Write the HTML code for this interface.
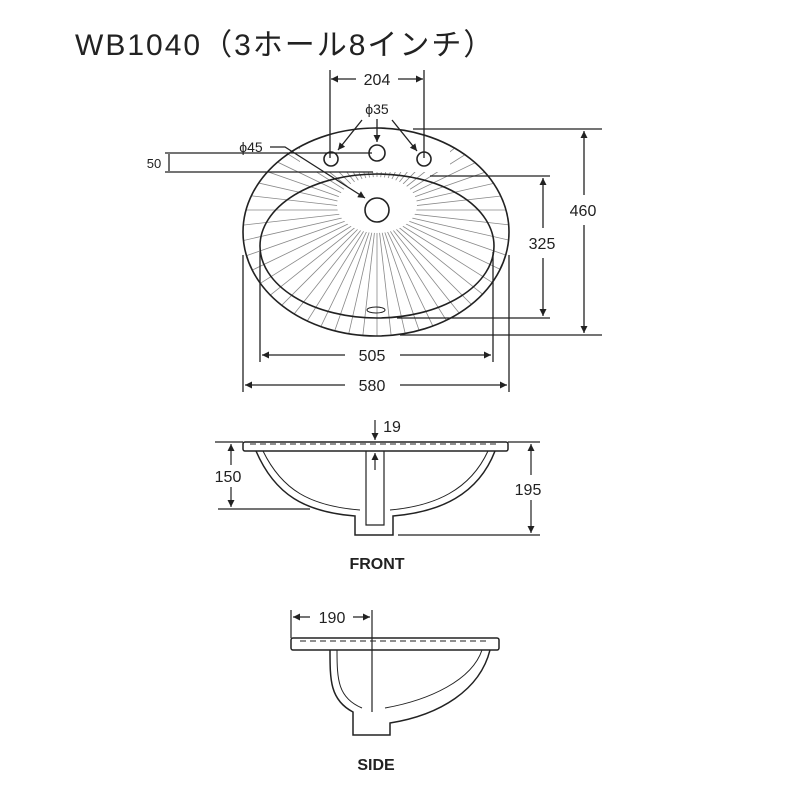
<!DOCTYPE html><html><head><meta charset="utf-8"><style>
body{margin:0;background:#fff}
text{font-family:"Liberation Sans","Noto Sans CJK JP",sans-serif;fill:#222}
</style></head><body>
<svg id="s" width="800" height="800" viewBox="0 0 800 800" xmlns="http://www.w3.org/2000/svg">
<defs>
<clipPath id="oc"><ellipse cx="376" cy="232" rx="133" ry="104"/></clipPath>
<mask id="mk"><rect width="800" height="800" fill="#fff"/><ellipse cx="377" cy="205" rx="40" ry="28" fill="#000"/><rect x="300" y="128" width="150" height="44" fill="#000"/></mask>
<marker id="a" viewBox="0 0 10 10" refX="10" refY="5" markerWidth="9" markerHeight="7" orient="auto-start-reverse" markerUnits="userSpaceOnUse"><path d="M0,0L10,5L0,10z" fill="#222"/></marker>
</defs>
<text x="75" y="55" font-size="30" letter-spacing="2">WB1040（3ホール8インチ）</text>
<g id="rad" clip-path="url(#oc)" mask="url(#mk)" stroke="#888" stroke-width="0.8"></g>
<g fill="none" stroke="#222" stroke-width="1.6">
<ellipse cx="376" cy="232" rx="133" ry="104"/>
<ellipse cx="377" cy="246" rx="117" ry="72"/>
<circle cx="377" cy="210" r="12" fill="#fff"/>
<circle cx="331" cy="159" r="7" fill="#fff"/><circle cx="377" cy="153" r="8" fill="#fff"/><circle cx="424" cy="159" r="7" fill="#fff"/>
<ellipse cx="376" cy="310" rx="9" ry="3" stroke-width="1"/>
</g>
<g stroke="#222" stroke-width="1.3" fill="none">
<line x1="330" y1="70" x2="330" y2="158"/><line x1="424" y1="70" x2="424" y2="158"/>
<line x1="331" y1="79" x2="356" y2="79" marker-start="url(#a)"/><line x1="398" y1="79" x2="423" y2="79" marker-end="url(#a)"/>
<line x1="362" y1="120" x2="338" y2="150" marker-end="url(#a)"/>
<line x1="377" y1="119" x2="377" y2="142" marker-end="url(#a)"/>
<line x1="392" y1="120" x2="417" y2="151" marker-end="url(#a)"/>
<polyline points="270,147 285,147 365,198" marker-end="url(#a)"/>
<line x1="165" y1="153" x2="372" y2="153"/><line x1="165" y1="172" x2="373" y2="172"/>
<line x1="169" y1="154" x2="169" y2="171"/>
<line x1="413" y1="129" x2="602" y2="129"/><line x1="400" y1="335" x2="602" y2="335"/>
<line x1="584" y1="131" x2="584" y2="195" marker-start="url(#a)"/><line x1="584" y1="225" x2="584" y2="333" marker-end="url(#a)"/>
<line x1="430" y1="176" x2="550" y2="176"/><line x1="397" y1="318" x2="550" y2="318"/>
<line x1="543" y1="178" x2="543" y2="228" marker-start="url(#a)"/><line x1="543" y1="258" x2="543" y2="316" marker-end="url(#a)"/>
<line x1="260" y1="252" x2="260" y2="362"/><line x1="493" y1="252" x2="493" y2="362"/>
<line x1="262" y1="355" x2="345" y2="355" marker-start="url(#a)"/><line x1="400" y1="355" x2="491" y2="355" marker-end="url(#a)"/>
<line x1="243" y1="255" x2="243" y2="392"/><line x1="509" y1="255" x2="509" y2="392"/>
<line x1="245" y1="385" x2="345" y2="385" marker-start="url(#a)"/><line x1="400" y1="385" x2="507" y2="385" marker-end="url(#a)"/>
</g>
<g font-size="16" text-anchor="middle">
<text x="377" y="85">204</text><text x="377" y="114" font-size="14">ϕ35</text>
<text x="251" y="152" font-size="14">ϕ45</text><text x="154" y="168" font-size="13">50</text>
<text x="583" y="216">460</text><text x="542" y="249">325</text>
<text x="372" y="361">505</text><text x="372" y="391">580</text>
</g>
<!-- FRONT -->
<g fill="none" stroke="#222" stroke-width="1.5">
<rect x="243" y="442" width="265" height="9" rx="2"/>
<path d="M256,451 C275,495 305,512 355,516 L355,535 L393,535 L393,516 C440,512 478,495 495,451"/>
<path d="M263,451 C282,490 310,506 360,510 M390,510 C435,506 470,490 488,451" stroke-width="1"/>
<path d="M366,451 L366,525 L384,525 L384,451" stroke-width="1.2"/>
<path d="M250,444 h250" stroke-dasharray="6,4" stroke-width="1"/>
</g>
<g stroke="#222" stroke-width="1.2" fill="none">
<line x1="215" y1="442" x2="243" y2="442"/><line x1="218" y1="509" x2="310" y2="509"/>
<line x1="231" y1="444" x2="231" y2="465" marker-start="url(#a)"/><line x1="231" y1="487" x2="231" y2="507" marker-end="url(#a)"/>
<line x1="508" y1="442" x2="540" y2="442"/><line x1="398" y1="535" x2="540" y2="535"/>
<line x1="531" y1="444" x2="531" y2="475" marker-start="url(#a)"/><line x1="531" y1="500" x2="531" y2="533" marker-end="url(#a)"/>
<line x1="375" y1="420" x2="375" y2="440" marker-end="url(#a)"/><line x1="375" y1="470" x2="375" y2="453" marker-end="url(#a)"/>
</g>
<g font-size="16" text-anchor="middle"><text x="228" y="482">150</text><text x="528" y="495">195</text><text x="392" y="432">19</text></g>
<text x="377" y="569" font-size="16" font-weight="bold" text-anchor="middle">FRONT</text>
<!-- SIDE -->
<g fill="none" stroke="#222" stroke-width="1.5">
<rect x="291" y="638" width="208" height="12" rx="2"/>
<path d="M330,650 C330,680 330,700 353,712 L353,735 L390,735 L390,723 C440,715 480,690 490,650"/>
<path d="M337,650 C337,680 338,698 362,708 M385,708 C430,700 472,680 482,650" stroke-width="1"/>
<path d="M300,641 h190" stroke-dasharray="6,4" stroke-width="1"/>
</g>
<g stroke="#222" stroke-width="1.2" fill="none">
<line x1="291" y1="610" x2="291" y2="638"/><line x1="372" y1="610" x2="372" y2="712"/>
<line x1="293" y1="617" x2="310" y2="617" marker-start="url(#a)"/><line x1="353" y1="617" x2="370" y2="617" marker-end="url(#a)"/>
</g>
<text x="332" y="623" font-size="16" text-anchor="middle">190</text>
<text x="376" y="770" font-size="16" font-weight="bold" text-anchor="middle">SIDE</text>
</svg>
<script>
var g=document.getElementById('rad'),s='';
for(var i=0;i<56;i++){var t=i*Math.PI*2/56;s+='<line x1="377" y1="210" x2="'+(377+300*Math.cos(t)).toFixed(1)+'" y2="'+(210+300*Math.sin(t)).toFixed(1)+'"/>';}
g.innerHTML=s;
</script>
</body></html>
